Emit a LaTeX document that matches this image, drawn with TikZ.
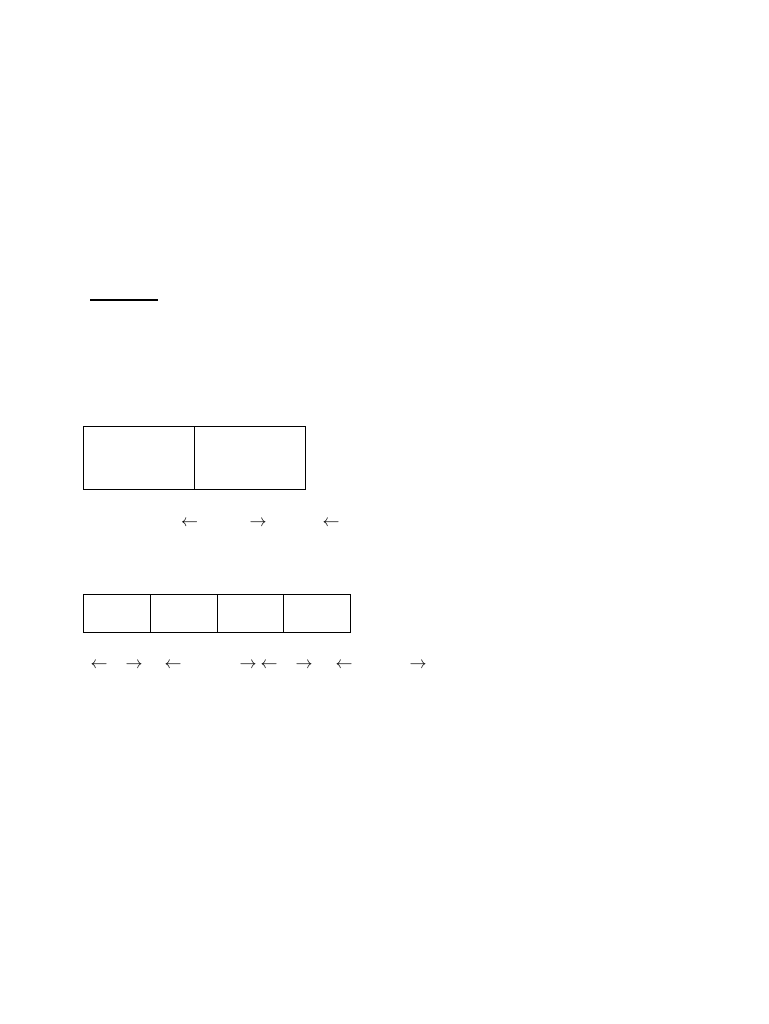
\documentclass[tikz,border=0pt]{standalone}
\usepackage{amsmath}
\usepackage{amssymb}
\usetikzlibrary{positioning}

\tikzset{
  cell/.style={draw, line width=0.9pt, inner sep=0pt, outer sep=0pt, anchor=north west},
  bigcell/.style={cell, minimum width=111pt, minimum height=63pt},
  smallcell/.style={cell, minimum width=67pt, minimum height=38pt},
  arr/.style={inner sep=0pt, anchor=base, scale=1.7}
}

\begin{document}
\begin{tikzpicture}[x=1pt, y=-1pt]
\useasboundingbox (0,0) rectangle (768,1024);
\coordinate (ul1) at (90,299.5);
\coordinate (ul2) at (158,299.5);
\draw[line width=2pt] (ul1) -- (ul2);
\node[bigcell] (a1) at (83,426.5) {};
\node[bigcell] (a2) at (a1.north east) {};
\foreach \x/\d [count=\i] in {189.5/\leftarrow, 258/\rightarrow, 331/\leftarrow}
   \node[arr] (p\i) at (\x,526) {$\d$};
\node[smallcell] (b1) at (83,594) {};
\node[smallcell] (b2) at (b1.north east) {};
\node[smallcell, minimum width=66pt] (b3) at (b2.north east) {};
\node[smallcell] (b4) at (b3.north east) {};
\foreach \x/\d [count=\i] in {99/\leftarrow, 134/\rightarrow, 173/\leftarrow, 248/\rightarrow, 269/\leftarrow, 304/\rightarrow, 344/\leftarrow, 418/\rightarrow}
   \node[arr] (q\i) at (\x,668) {$\d$};
\end{tikzpicture}
\end{document}
